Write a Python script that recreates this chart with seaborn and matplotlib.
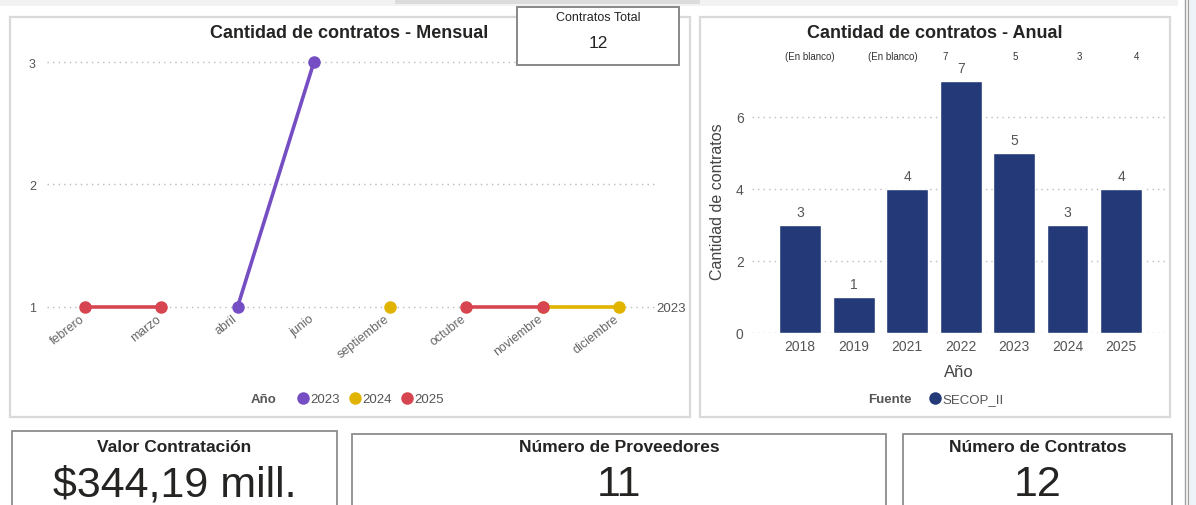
import numpy as np
import pandas as pd
import matplotlib.pyplot as plt
import matplotlib.transforms as mtransforms
import seaborn as sns
from matplotlib.patches import Rectangle
from matplotlib.lines import Line2D
from matplotlib import font_manager

# Datos - grafico mensual
meses = ['febrero', 'marzo', 'abril', 'junio', 'septiembre', 'octubre', 'noviembre', 'diciembre']
anios_linea = ['2023', '2024', '2025']
cant_2023 = [np.nan, np.nan, 1, 3, np.nan, np.nan, np.nan, np.nan]
cant_2024 = [np.nan, np.nan, np.nan, np.nan, 1, np.nan, 1, 1]
cant_2025 = [1, 1, np.nan, np.nan, np.nan, 1, 1, np.nan]
colores_linea = ['#744EC2', '#E0B400', '#D64550']

# Datos - grafico anual
anios_barra = ['2018', '2019', '2021', '2022', '2023', '2024', '2025']
cant_anual = [3, 1, 4, 7, 5, 3, 4]
etiquetas_sup = ['(En blanco)', '(En blanco)', '7', '5', '3', '4']
color_barra = '#243A78'

# Tarjetas
contratos_total = '12'
valor_contratacion = '$344,19 mill.'
num_proveedores = '11'
num_contratos = '12'

W, H = 1196, 506
sns.set_theme(style='white')
plt.rcParams['font.family'] = ['Liberation Sans', 'DejaVu Sans']

nombres = {f.name for f in font_manager.fontManager.ttflist}
NARROW = 'Liberation Sans Narrow' in nombres
big_family = ['Liberation Sans Narrow'] if NARROW else ['Liberation Sans', 'DejaVu Sans']
big_size = 36 if NARROW else 31


def fx(x):
    return x / W


def fy(y):
    return 1 - y / H


def caja(x0, y0, x1, y1):
    return [x0 / W, 1 - y1 / H, (x1 - x0) / W, (y1 - y0) / H]


def rect(fig, x0, y0, x1, y1, ec, lw=1.2, fc='none', z=0):
    fig.add_artist(Rectangle((fx(x0), fy(y1)), (x1 - x0) / W, (y1 - y0) / H,
                             transform=fig.transFigure, ec=ec, fc=fc, lw=lw, zorder=z))


fig = plt.figure(figsize=(W / 100, H / 100), dpi=100)
fig.patch.set_facecolor('white')

# fondo superior y derecho
rect(fig, 0, -2, 1178, 7, ec='none', fc='#F2F2F2')
rect(fig, 395, -2, 700, 5, ec='none', fc='#DCDCDC')
rect(fig, 1190, -2, 1200, 510, ec='none', fc='#EEF3F9')
fig.add_artist(Line2D([fx(1185), fx(1185)], [0, 1], transform=fig.transFigure, color='#A0A0A0', lw=1))
fig.add_artist(Line2D([fx(1188), fx(1188)], [0, 1], transform=fig.transFigure, color='#A0A0A0', lw=1))

# paneles
rect(fig, 10, 18, 690, 418, ec='#D9D9D9', lw=1.6)
rect(fig, 700, 18, 1170, 418, ec='#D9D9D9', lw=1.6)

# ---- Grafico mensual ----
filas = []
for anio, serie in zip(anios_linea, [cant_2023, cant_2024, cant_2025]):
    tramo = 0
    previo = False
    for i, v in enumerate(serie):
        if np.isnan(v):
            previo = False
            continue
        if not previo:
            tramo += 1
        previo = True
        filas.append({'Año': anio, 'mes': i, 'cantidad': v, 'tramo': f'{anio}-{tramo}'})
df_mes = pd.DataFrame(filas)

ax1 = fig.add_axes(caja(47, 51, 657, 326))
sns.lineplot(data=df_mes, x='mes', y='cantidad', hue='Año', units='tramo', estimator=None,
             hue_order=anios_linea, palette=colores_linea, marker='o', markersize=9,
             markeredgewidth=0, linewidth=2.6, legend=False, ax=ax1)
ax1.set_xlim(-0.5, len(meses) - 0.5)
ax1.set_ylim(0.85, 3.1)
ax1.set_yticks([1, 2, 3])
ax1.set_yticklabels(['1', '2', '3'], fontsize=9, color='#555555')
ax1.set_xticks(range(len(meses)))
ax1.set_xticklabels(meses, rotation=38, ha='right', rotation_mode='anchor', fontsize=9, color='#666666')
ax1.tick_params(axis='both', length=0, pad=8)
ax1.tick_params(axis='x', pad=0)
desplazar = mtransforms.ScaledTranslation(-4 / 72, 9 / 72, fig.dpi_scale_trans)
for lbl in ax1.get_xticklabels():
    lbl.set_transform(lbl.get_transform() + desplazar)
ax1.grid(axis='y', linestyle=(0, (1, 3)), color='#BBBBBB', lw=1)
ax1.set_xlabel('')
ax1.set_ylabel('')
for s in ax1.spines.values():
    s.set_visible(False)
ax1.set_facecolor('none')

fig.text(fx(349), fy(33), 'Cantidad de contratos - Mensual', ha='center', va='center',
         fontsize=13, fontweight='bold', color='#252423')
fig.text(fx(656), fy(309), '2023', ha='left', va='center', fontsize=9.5, color='#555555')

fig.text(fx(264), fy(400), 'Año', ha='center', va='center', fontsize=9.5, fontweight='bold', color='#555555')
handles = [Line2D([], [], marker='o', ls='none', color=c, markersize=9, markeredgewidth=0) for c in colores_linea]
fig.legend(handles, anios_linea, ncol=3, loc='center left', bbox_to_anchor=(fx(283), fy(400)),
           frameon=False, handletextpad=0.0, columnspacing=0.5, handlelength=1.2,
           prop={'size': 9.5}, labelcolor='#555555')

# tarjeta contratos total
rect(fig, 517, 8, 679, 66, ec='#7F7F7F', lw=1.3, fc='white', z=3)
fig.text(fx(598), fy(18), 'Contratos Total', ha='center', va='center', fontsize=9, color='#252423', zorder=4)
fig.text(fx(598), fy(44), contratos_total, ha='center', va='center', fontsize=12.5, color='#252423', zorder=4)

# ---- Grafico anual ----
df_anual = pd.DataFrame({'Año': anios_barra, 'Cantidad de contratos': cant_anual})
ax2 = fig.add_axes(caja(752, 70, 1165, 334))
sns.barplot(data=df_anual, x='Año', y='Cantidad de contratos', color=color_barra,
            saturation=1, width=0.78, ax=ax2)
ax2.bar_label(ax2.containers[0], padding=4, fontsize=10, color='#555555')
ax2.set_xlim(-0.9, 6.82)
ax2.set_ylim(0, 7.33)
ax2.set_yticks([0, 2, 4, 6])
ax2.set_yticklabels(['0', '2', '4', '6'], fontsize=10, color='#555555')
ax2.tick_params(axis='both', length=0)
ax2.tick_params(axis='y', pad=6)
ax2.tick_params(axis='x', labelsize=10, labelcolor='#555555', pad=4)
ax2.grid(axis='y', linestyle=(0, (1, 3)), color='#BBBBBB', lw=1)
ax2.set_axisbelow(True)
ax2.set_xlabel('Año', fontsize=12, color='#444444', labelpad=8)
ax2.set_ylabel('Cantidad de contratos', fontsize=11.5, color='#444444', labelpad=8)
for s in ax2.spines.values():
    s.set_visible(False)
ax2.set_facecolor('none')

fig.text(fx(935), fy(33), 'Cantidad de contratos - Anual', ha='center', va='center',
         fontsize=13, fontweight='bold', color='#252423')
for x, t in zip([810, 893, 945, 1015, 1079, 1137], etiquetas_sup):
    fig.text(fx(x), fy(57), t, ha='center', va='center', fontsize=7, color='#333333')

fig.text(fx(890), fy(400), 'Fuente', ha='center', va='center', fontsize=9.5, fontweight='bold', color='#555555')
fig.legend([Line2D([], [], marker='o', ls='none', color=color_barra, markersize=9, markeredgewidth=0)],
           ['SECOP_II'], loc='center left', bbox_to_anchor=(fx(915), fy(400)), frameon=False,
           handletextpad=0.0, handlelength=1.2, prop={'size': 9.5}, labelcolor='#555555')

# ---- Tarjetas inferiores ----
tarjetas = [
    ((12, 432, 337, 512), 'Valor Contratación', valor_contratacion),
    ((352, 435, 886, 512), 'Número de Proveedores', num_proveedores),
    ((903, 435, 1172, 512), 'Número de Contratos', num_contratos),
]
for (x0, y0, x1, y1), titulo, valor in tarjetas:
    rect(fig, x0, y0, x1, y1, ec='#8C8C8C', lw=1.3, fc='white', z=1)
    cx = (x0 + x1) / 2
    fig.text(fx(cx), fy(448), titulo, ha='center', va='center', fontsize=12.5,
             fontweight='bold', color='#252423', zorder=2)
    fig.text(fx(cx), fy(505.5), valor, ha='center', va='bottom', fontsize=big_size,
             family=big_family, color='#252423', zorder=2)

fig.savefig('out.png', dpi=100, facecolor='white')
